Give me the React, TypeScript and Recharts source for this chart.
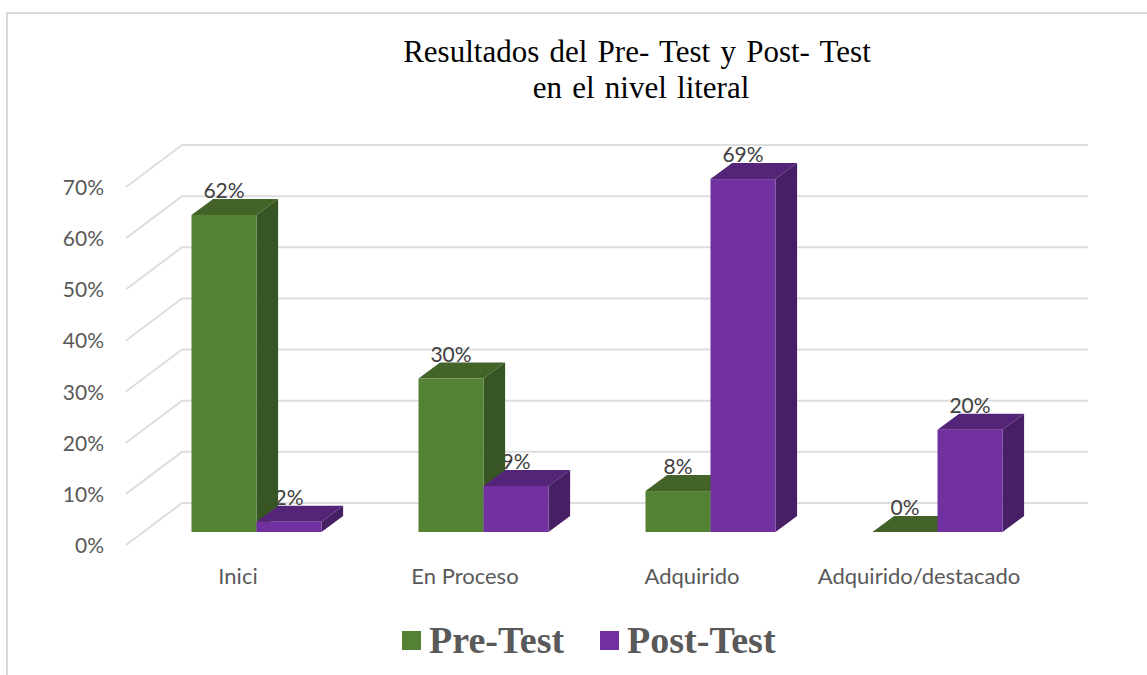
import React from "react";
import { BarChart, Bar, XAxis, YAxis, CartesianGrid, LabelList, Legend } from "recharts";

const categories = ["Inici", "En Proceso", "Adquirido", "Adquirido/destacado"];
const preTest = [62, 30, 8, 0];
const postTest = [2, 9, 69, 20];
const yTicks = [0, 10, 20, 30, 40, 50, 60, 70];

const data = categories.map((name, i) => ({ name, pre: preTest[i], post: postTest[i] }));

const sansFont = "Lato, 'Open Sans', sans-serif";
const serifFont = "'Liberation Serif', serif";

// depth of the fake 3D bars
const DX = 21.6;
const DY = 16;

const Bar3D = ({ x, y, width, height, front, top, side }: any) => (
  <g>
    <polygon points={`${x},${y} ${x + DX},${y - DY} ${x + width + DX},${y - DY} ${x + width},${y}`} fill={top} />
    <polygon points={`${x + width},${y} ${x + width + DX},${y - DY} ${x + width + DX},${y + height - DY} ${x + width},${y + height}`} fill={side} />
    {height > 0 && <rect x={x} y={y} width={width} height={height} fill={front} />}
  </g>
);

// grid line: slanted piece on the side wall, then along the back wall
const gridLine = ({ y1, key }: any) => (
  <polyline
    key={key}
    points={`126,${y1 + 13} 182,${y1 - 29} 1088,${y1 - 29}`}
    fill="none"
    stroke="#dedede"
    strokeWidth={2}
  />
);

const ValueLabel = ({ x, y, width, value, index, clipped }: any) => {
  const cx = x + width / 2;
  // the green side face hides the start of the low purple labels
  const hide = clipped && preTest[index] > postTest[index];
  const id = `label-clip-${index}`;
  return (
    <g>
      {hide && (
        <clipPath id={id}>
          <rect x={x + DX} y={y - 60} width={width} height={60} />
        </clipPath>
      )}
      <text
        x={cx}
        y={y - 17}
        textAnchor="middle"
        fontFamily={sansFont}
        fontSize={21}
        fill="#404040"
        clipPath={hide ? `url(#${id})` : undefined}
      >
        {value}%
      </text>
    </g>
  );
};

const YTick = ({ y, payload }: any) => (
  <text x={104} y={y + 21} textAnchor="end" fontFamily={sansFont} fontSize={21} fill="#595959">
    {payload.value}%
  </text>
);

const XTick = ({ x, payload }: any) => (
  <text x={x - 18} y={584} textAnchor="middle" fontFamily={sansFont} fontSize={22} fill="#595959">
    {payload.value}
  </text>
);

const LegendRow = ({ payload }: any) => (
  <div style={{ display: "flex", alignItems: "center", fontFamily: serifFont, fontWeight: 700, fontSize: 38, lineHeight: "44px", color: "#595959" }}>
    {(payload || []).map((p: any) => (
      <div key={p.value} style={{ display: "flex", alignItems: "center", marginRight: 36 }}>
        <span style={{ width: 19, height: 19, background: p.color, marginRight: 8 }} />
        {p.value}
      </div>
    ))}
  </div>
);

export default function App() {
  return (
    <div style={{ position: "absolute", left: 0, top: 0, width: 1147, height: 675, background: "#fff", overflow: "hidden" }}>
      <div style={{ position: "absolute", left: 6, top: 12, width: 1300, height: 800, border: "2px solid #d9d9d9" }} />
      <div
        style={{
          position: "absolute",
          left: 337,
          top: 34,
          width: 600,
          textAlign: "center",
          fontFamily: serifFont,
          fontSize: 31,
          lineHeight: "36px",
          color: "#000",
          wordSpacing: 2.5,
        }}
      >
        Resultados del Pre- Test y Post- Test
        <div style={{ marginLeft: 8 }}>en el nivel literal</div>
      </div>
      <BarChart
        width={1147}
        height={675}
        data={data}
        barSize={65}
        barGap={0}
        margin={{ top: 174, right: 96.5, bottom: 0, left: 0 }}
        style={{ position: "absolute", left: 0, top: 0 }}
      >
        <CartesianGrid vertical={false} horizontal={gridLine} />
        <XAxis dataKey="name" axisLine={false} tickLine={false} height={99} tick={<XTick />} interval={0} />
        <YAxis domain={[0, 70]} ticks={yTicks} axisLine={false} tickLine={false} width={142.5} tick={<YTick />} />
        <Legend
          content={<LegendRow />}
          itemSorter={null}
          wrapperStyle={{ position: "absolute", left: 402, top: 618, width: "auto" }}
        />
        <Bar
          dataKey="pre"
          name="Pre-Test"
          fill="#548235"
          isAnimationActive={false}
          shape={(p: any) => <Bar3D {...p} front="#548235" top="#446329" side="#375623" />}
        >
          <LabelList dataKey="pre" content={(p: any) => <ValueLabel {...p} />} />
        </Bar>
        <Bar
          dataKey="post"
          name="Post-Test"
          fill="#7030a0"
          isAnimationActive={false}
          shape={(p: any) => <Bar3D {...p} front="#7030a0" top="#542478" side="#461f64" />}
        >
          <LabelList dataKey="post" content={(p: any) => <ValueLabel {...p} clipped />} />
        </Bar>
      </BarChart>
    </div>
  );
}
